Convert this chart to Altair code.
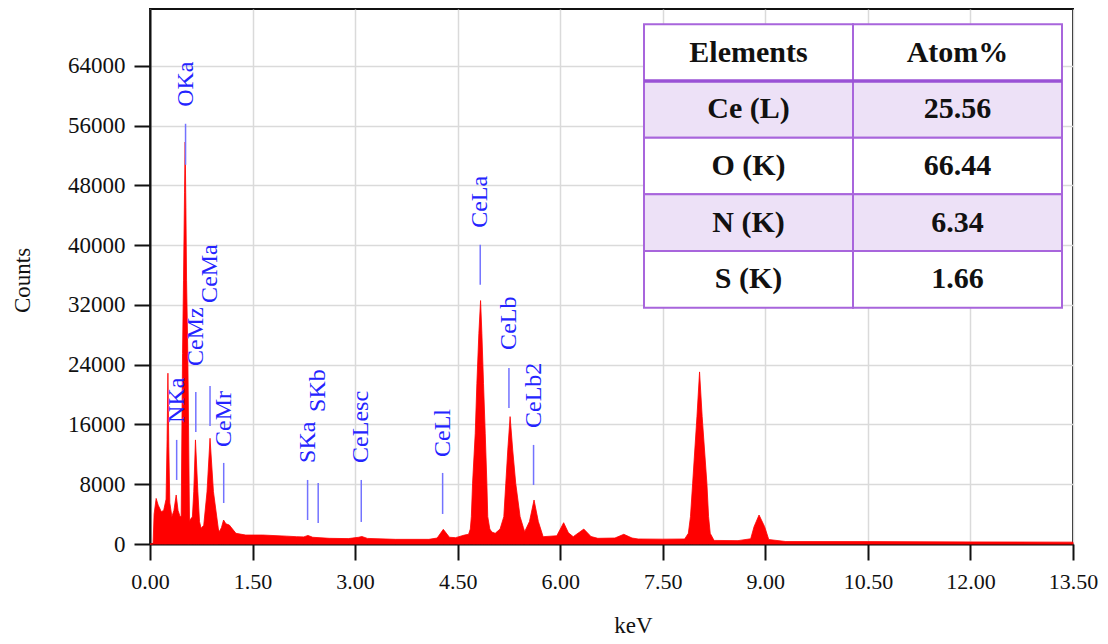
import altair as alt
import pandas as pd

# ---------------- spectrum ----------------
kev = [0.0, 0.045, 0.06, 0.09, 0.12, 0.165, 0.20, 0.235, 0.25, 0.262,
       0.275, 0.29, 0.32, 0.35, 0.383, 0.41, 0.44, 0.456, 0.476, 0.49,
       0.505, 0.514, 0.525, 0.535, 0.553, 0.578, 0.60, 0.62, 0.64, 0.665,
       0.70, 0.724, 0.747, 0.786, 0.834, 0.878, 0.928, 1.0, 1.015, 1.045,
       1.076, 1.11, 1.16, 1.257, 1.40, 1.65, 2.0, 2.14, 2.25, 2.31,
       2.38, 2.62, 2.9, 3.05, 3.10, 3.18, 3.59, 4.08, 4.2, 4.29,
       4.38, 4.47, 4.6, 4.66, 4.685, 4.70, 4.718, 4.757, 4.781, 4.81,
       4.835, 4.854, 4.878, 4.903, 4.927, 4.94, 4.97, 5.0, 5.049, 5.12,
       5.175, 5.204, 5.233, 5.267, 5.305, 5.349, 5.413, 5.461, 5.48, 5.55,
       5.617, 5.68, 5.75, 5.95, 6.05, 6.12, 6.19, 6.345, 6.45, 6.55,
       6.8, 6.93, 7.05, 7.14, 7.5, 7.82, 7.874, 7.905, 7.937, 8.0,
       8.038, 8.076, 8.145, 8.17, 8.194, 8.25, 8.6, 8.786, 8.835, 8.908,
       8.99, 9.05, 9.3, 10.5, 12.0, 13.5]
counts = [0, 0, 4000, 6100, 5200, 4330, 4500, 6000, 14000, 22860,
          13000, 5500, 3660, 4500, 6560, 4500, 3660, 3700, 25500, 35300,
          47000, 53800, 45000, 35300, 25500, 3000, 3440, 3600, 7000, 13930,
          7000, 3000, 2100, 2500, 7000, 14150, 7000, 2000, 1650, 2200,
          3210, 2700, 2540, 1430, 1200, 1200, 1050, 980, 950, 1150,
          900, 760, 720, 900, 1000, 750, 625, 625, 800, 1960,
          900, 850, 1200, 1300, 2000, 3660, 8130, 14820, 21500, 28200,
          32580, 28200, 21500, 14820, 8130, 3660, 2000, 1600, 1430, 2000,
          3660, 8130, 12590, 17050, 12590, 8130, 3660, 2200, 1650, 3000,
          5890, 3000, 980, 1100, 2850, 1500, 980, 2000, 1000, 760,
          800, 1300, 800, 670, 650, 670, 1430, 3660, 8130, 17050,
          23030, 17050, 8130, 3660, 1430, 480, 450, 700, 2320, 3880,
          2320, 600, 330, 320, 280, 250]

# ---------------- peak labels ----------------
label_names = ["NKa", "OKa", "CeMz", "CeMa", "CeMr", "SKa", "SKb",
               "CeLesc", "CeLl", "CeLa", "CeLb", "CeLb2"]
label_kev = [0.39, 0.52, 0.67, 0.878, 1.078, 2.305, 2.46, 3.09, 4.28, 4.83, 5.25, 5.61]
line_low = [8570, 50750, 15000, 15800, 5490, 3210, 2810, 2950, 4020, 34680, 18210, 7900]
line_high = [13930, 56240, 20350, 21160, 10850, 8570, 8170, 8570, 9510, 40040, 23570, 13260]
text_at = [16200, 58510, 23830, 32270, 12990, 10850, 17670, 10850, 11650, 42310, 25980, 15530]

# ---------------- axes ----------------
x_ticks = [0, 1.5, 3, 4.5, 6, 7.5, 9, 10.5, 12, 13.5]
y_ticks = [0, 8000, 16000, 24000, 32000, 40000, 48000, 56000, 64000]

# ---------------- inset table ----------------
table_header = ["Elements", "Atom%"]
table_elements = ["Ce (L)", "O (K)", "N (K)", "S (K)"]
table_atom = ["25.56", "66.44", "6.34", "1.66"]

FONT = "Liberation Serif"

df_spec = pd.DataFrame({"keV": kev, "counts": counts})
df_lab = pd.DataFrame({"name": label_names, "kev": label_kev,
                       "lo": line_low, "hi": line_high, "ty": text_at})

rows = []
all_rows = [table_header] + [[e, a] for e, a in zip(table_elements, table_atom)]
for r, pair in enumerate(all_rows):
    for c, txt in enumerate(pair):
        rows.append({"c0": c, "c1": c + 1, "cx": c + 0.5,
                     "r0": r, "r1": r + 1, "ry": r + 0.5,
                     "txt": txt, "shade": "p" if r % 2 == 1 else "w"})
df_tab = pd.DataFrame(rows)
df_sep = pd.DataFrame({"c0": [0], "c1": [2], "r": [1]})

xscale = alt.Scale(domain=[0, 13.5], nice=False, zero=False)
yscale = alt.Scale(domain=[0, 71600], nice=False)

xaxis = alt.Axis(values=x_ticks, format=".2f", title="keV", grid=True,
                 gridColor="#dadada", gridWidth=1.5,
                 tickSize=16, tickWidth=2, tickColor="#111111",
                 domainColor="#111111", domainWidth=2,
                 labelFont=FONT, labelFontSize=22, labelColor="#111111",
                 labelPadding=11, labelFlush=False,
                 titleFont=FONT, titleFontSize=23, titleFontWeight="normal",
                 titleColor="#111111", titleX=483, titleY=88,
                 titleBaseline="alphabetic", titleAlign="center")
yaxis = alt.Axis(values=y_ticks, format="d", title="Counts", grid=True,
                 gridColor="#dadada", gridWidth=1.5,
                 tickSize=16, tickWidth=2, tickColor="#111111",
                 domainColor="#111111", domainWidth=2,
                 labelFont=FONT, labelFontSize=23, labelColor="#111111",
                 labelPadding=9,
                 titleFont=FONT, titleFontSize=23, titleFontWeight="normal",
                 titleColor="#111111", titleX=-128, titleY=271,
                 titleAngle=270, titleBaseline="middle", titleAlign="center")

area = alt.Chart(df_spec).mark_area(
    color="#ff0000", stroke="#ff0000", strokeWidth=0.8, interpolate="linear"
).encode(
    x=alt.X("keV:Q", scale=xscale, axis=xaxis),
    y=alt.Y("counts:Q", scale=yscale, axis=yaxis),
)

rules = alt.Chart(df_lab).mark_rule(color="#7373ff", strokeWidth=1.5).encode(
    x=alt.X("kev:Q", scale=xscale),
    y=alt.Y("lo:Q", scale=yscale),
    y2="hi:Q",
)

texts = alt.Chart(df_lab).mark_text(
    angle=270, align="left", baseline="middle", font=FONT, fontSize=24,
    color="#2424ff"
).encode(
    x=alt.X("kev:Q", scale=xscale),
    y=alt.Y("ty:Q", scale=yscale),
    text="name:N",
)

main = alt.layer(area, rules, texts)

tx = alt.Scale(domain=[0, 2], range=[494, 912], nice=False, zero=False)
ty = alt.Scale(domain=[0, 5], range=[15.3, 298.7], nice=False, zero=False)

cells = alt.Chart(df_tab).mark_rect(stroke="#a865dc", strokeWidth=2).encode(
    x=alt.X("c0:Q", scale=tx, axis=None),
    x2="c1:Q",
    y=alt.Y("r0:Q", scale=ty, axis=None),
    y2="r1:Q",
    fill=alt.Fill("shade:N", scale=alt.Scale(domain=["w", "p"],
                                             range=["#ffffff", "#ede1f7"]),
                  legend=None),
)

sep = alt.Chart(df_sep).mark_rule(color="#9a52d6", strokeWidth=3.5).encode(
    x=alt.X("c0:Q", scale=tx, axis=None),
    x2="c1:Q",
    y=alt.Y("r:Q", scale=ty, axis=None),
)

ttext = alt.Chart(df_tab).mark_text(
    font=FONT, fontSize=30, fontWeight="bold", color="#111111",
    align="center", baseline="middle"
).encode(
    x=alt.X("cx:Q", scale=tx, axis=None),
    y=alt.Y("ry:Q", scale=ty, axis=None),
    text="txt:N",
)

table = alt.layer(cells, sep, ttext)

chart = alt.layer(main, table).resolve_scale(
    x="independent", y="independent"
).properties(
    width=923, height=535,
    padding={"left": 142, "top": 1, "right": 26, "bottom": 92},
    autosize=alt.AutoSizeParams(type="none"),
).configure_view(
    stroke="#111111", strokeWidth=2
)

chart.save("out.html", embed_options={"renderer": "svg", "actions": False})
